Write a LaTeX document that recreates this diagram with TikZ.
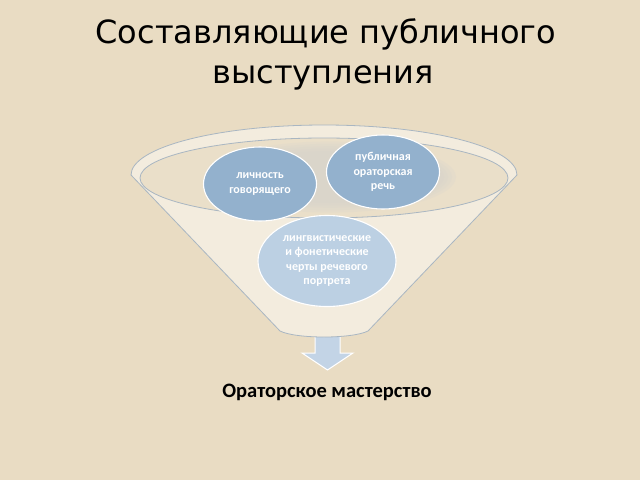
\documentclass[tikz,border=0pt]{standalone}
\usepackage{fontspec}
\setmainfont{Carlito}
\newfontfamily\titlefont{DejaVu Sans}
\usetikzlibrary{shapes.geometric}
\definecolor{bg}{HTML}{E9DCC3}
\definecolor{funnelfill}{HTML}{F3ECDE}
\definecolor{funnelline}{HTML}{A9B6C2}
\definecolor{innerfill}{HTML}{EADFC9}
\definecolor{shadowc}{HTML}{D6D3CE}
\definecolor{blueA}{HTML}{93B1CD}
\definecolor{blueB}{HTML}{BCD0E3}
\definecolor{arrowc}{HTML}{C3D4E6}
\begin{document}
\begin{tikzpicture}[x=1pt,y=-1pt,
  bubble/.style={ellipse, draw=white, line width=1.1pt, text=white,
    font=\fontsize{12}{14.5}\selectfont\bfseries, align=center, inner sep=0pt},
  titletext/.style={font=\titlefont\fontsize{32}{40}\selectfont, anchor=base, text=black},
]
\fill[bg] (0,0) rectangle (640,480);
\useasboundingbox (0,0) rectangle (640,480);
% arrow (behind funnel)
\filldraw[fill=arrowc, draw=white, line width=1pt]
  (315,325) -- (340,325) -- (340,353) -- (353,353) -- (327.5,370) -- (302,353) -- (315,353) -- cycle;
% funnel body
\filldraw[fill=funnelfill, draw=funnelline, line width=0.8pt]
  (131,175) arc[start angle=180, end angle=360, x radius=193, y radius=50]
  -- (368,331) .. controls (352,339) and (296,339) .. (280,331) -- cycle;
% inner opening
\filldraw[fill=innerfill, draw=funnelline, line width=0.8pt] (324,178) ellipse[x radius=184, y radius=40];
\begin{scope}
  \clip (324,178) ellipse[x radius=184, y radius=40];
  \foreach \r in {0,4,8,12,16} {
    \fill[shadowc, opacity=0.22] (330,177) ellipse[x radius=110+\r, y radius=26+\r*0.6];
  }
\end{scope}
% bubbles
\node[bubble, fill=blueB, minimum width=138, minimum height=91] (ling) at (327,261)
  {лингвистические\\и фонетические\\черты речевого\\портрета};
\node[bubble, fill=blueA, minimum width=113, minimum height=74] (lich) at (260,184)
  {личность\\говорящего};
\node[bubble, fill=blueA, minimum width=113, minimum height=74] (pub) at (383,172)
  {публичная\\ораторская\\речь};
% texts
\node[titletext] (t1) at (326,43) {Составляющие публичного};
\node[titletext] (t2) at (323,83) {выступления};
\node[font=\fontsize{20.5}{24}\selectfont\bfseries, text=black] (res) at (327,392) {Ораторское мастерство};
\end{tikzpicture}
\end{document}
